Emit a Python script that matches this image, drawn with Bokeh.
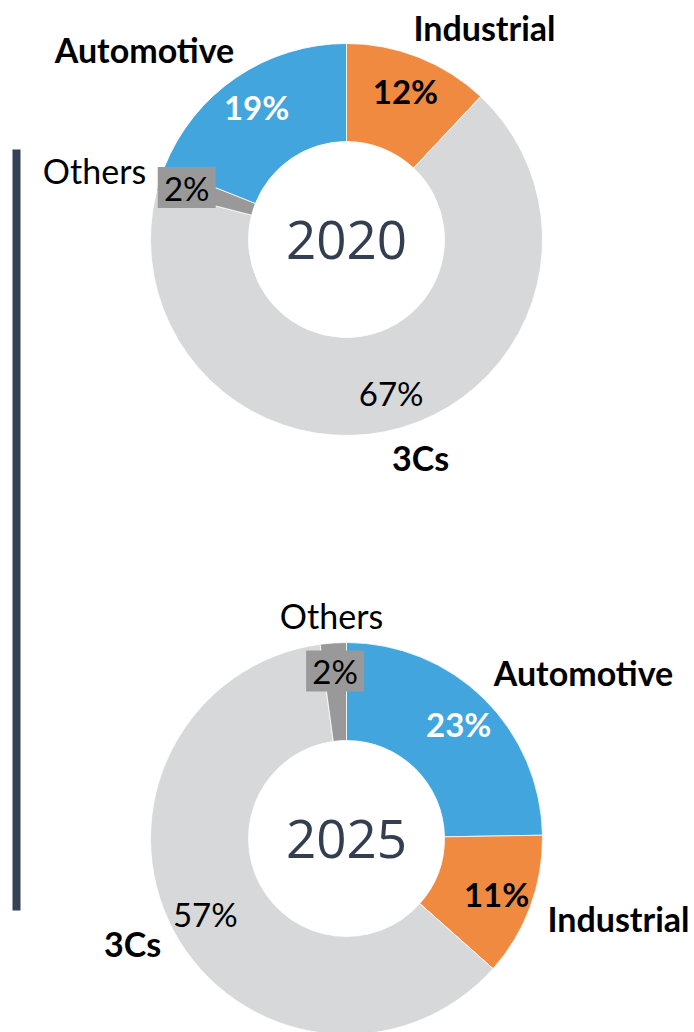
import math
from bokeh.plotting import figure
from bokeh.models import Range1d, ColumnDataSource
from bokeh.core.properties import value
from bokeh.embed import file_html
from bokeh.resources import INLINE

# ---- data ----
years = ["2020", "2025"]
cats_2020 = ["Industrial", "3Cs", "Others", "Automotive"]
vals_2020 = [12, 67, 2, 19]
cats_2025 = ["Automotive", "Industrial", "3Cs", "Others"]
vals_2025 = [23, 11, 57, 2]

# ---- styles / layout ----
COLORS = {"Automotive": "#42A5DD", "Industrial": "#F08A41", "3Cs": "#D7D8DA", "Others": "#999999"}
PCT_COLOR = {"Automotive": "white", "Industrial": "black", "3Cs": "black", "Others": "black"}
PCT_STYLE = {"Automotive": "bold", "Industrial": "bold", "3Cs": "normal", "Others": "normal"}
NAVY = "#333F50"
W, H = 694, 1032
CENTERS = {"2020": (346, 239), "2025": (346, 838)}
R_OUT, R_IN = 196, 98
R_LABEL, R_LABEL_SMALL = 160, 168
NAME_POS = {
    "2020": {"Industrial": (484, 27), "Automotive": (144, 49), "Others": (94, 170), "3Cs": (420, 457)},
    "2025": {"Others": (331, 615), "Automotive": (583, 672), "Industrial": (618, 918), "3Cs": (132, 943)},
}

def fy(y):
    return H - y

p = figure(width=W, height=H, output_backend="svg", toolbar_location=None,
           x_range=Range1d(0, W), y_range=Range1d(fy(H), fy(0)),
           min_border=0, outline_line_color=None)
p.axis.visible = False
p.grid.visible = False
p.background_fill_color = "white"
p.border_fill_color = "white"

# vertical divider bar
p.quad(left=[12], right=[20], bottom=[fy(910)], top=[fy(149)], fill_color="#354255", line_color=None)

font = value("Lato")
for yr, cats, vals in [("2020", cats_2020, vals_2020), ("2025", cats_2025, vals_2025)]:
    cx, cy = CENTERS[yr]
    total = float(sum(vals))
    starts, ends, mids = [], [], []
    cum = 0.0
    for v in vals:
        a0 = math.pi / 2 - 2 * math.pi * cum / total
        cum += v
        a1 = math.pi / 2 - 2 * math.pi * cum / total
        starts.append(a0); ends.append(a1); mids.append((a0 + a1) / 2)
    src = ColumnDataSource(dict(start=starts, end=ends, color=[COLORS[c] for c in cats]))
    p.annular_wedge(x=cx, y=fy(cy), inner_radius=R_IN, outer_radius=R_OUT,
                    start_angle="start", end_angle="end", direction="clock",
                    fill_color="color", line_color="white", line_width=0.8, source=src)
    # percentage labels
    for c, v, m in zip(cats, vals, mids):
        r = R_LABEL_SMALL if v < 5 else R_LABEL
        lx = cx + r * math.cos(m)
        ly = fy(cy) + r * math.sin(m)
        if c == "Others":
            p.rect(x=[lx], y=[ly], width=58, height=41, fill_color=COLORS["Others"], line_color=None)
        p.text(x=[lx], y=[ly], text=[f"{v}%"], text_font=font, text_font_size=value("33px"),
               text_font_style=PCT_STYLE[c], text_color=PCT_COLOR[c],
               text_align="center", text_baseline="middle")
    # category names
    for c in cats:
        nx, ny = NAME_POS[yr][c]
        p.text(x=[nx], y=[fy(ny)], text=[c], text_font=font,
               text_font_size=value("34px"),
               text_font_style="normal" if c == "Others" else "bold", text_color="black",
               text_align="center", text_baseline="middle")
    # year in the centre
    p.text(x=[cx], y=[fy(cy)], text=[yr], text_font=value("Open Sans"), text_font_size=value("53px"),
           text_color=NAVY, text_align="center", text_baseline="middle")

open("out.html", "w").write(file_html(p, INLINE))
